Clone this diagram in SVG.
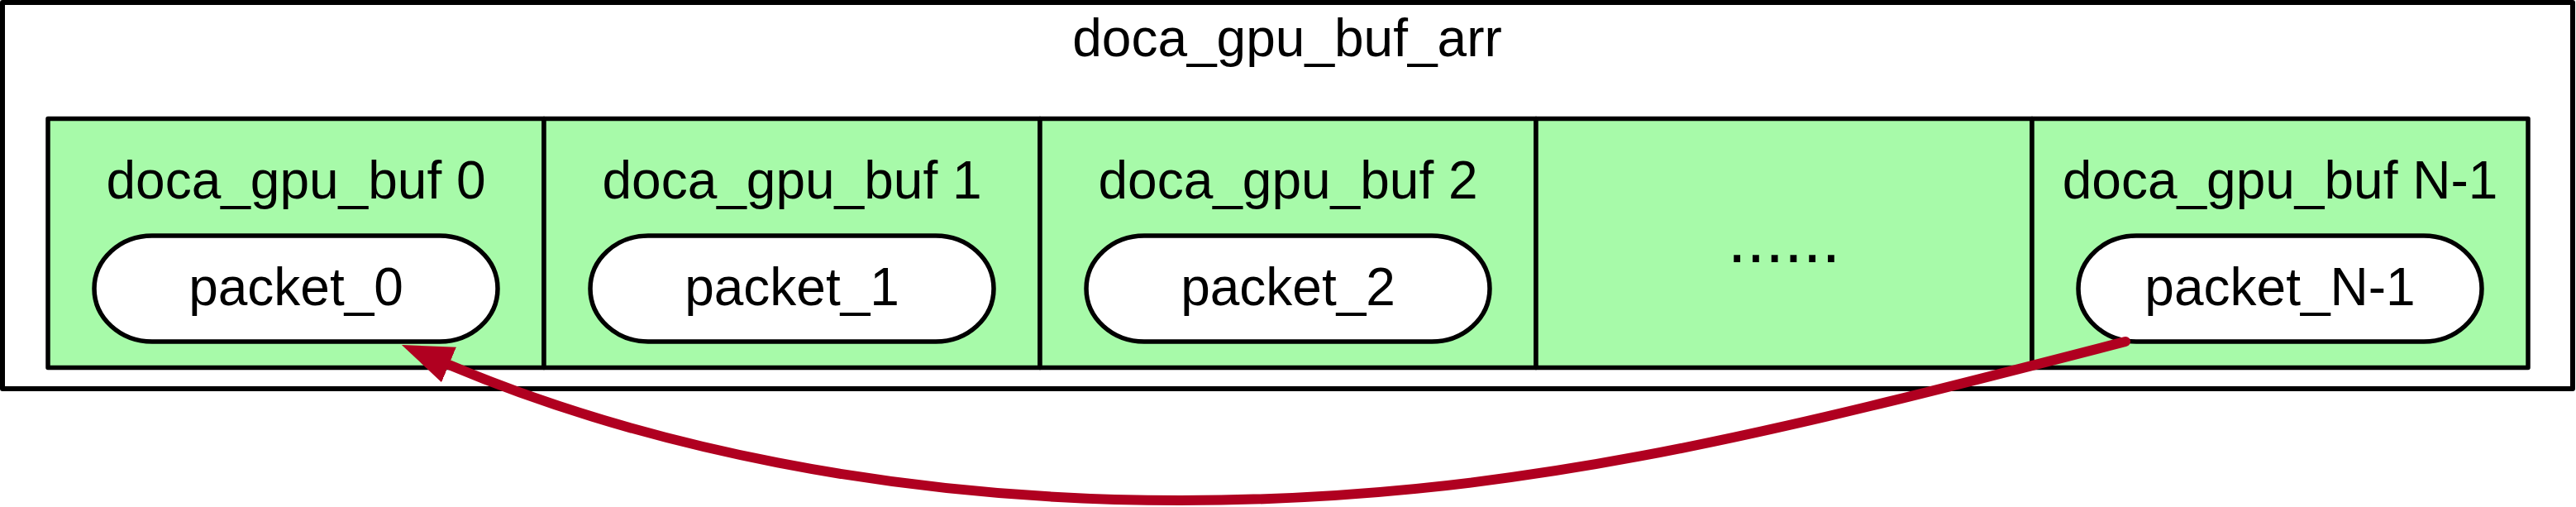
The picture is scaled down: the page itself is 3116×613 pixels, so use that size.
<svg xmlns="http://www.w3.org/2000/svg" width="3116" height="613" viewBox="0 0 3116 613">
  <style>
    .outer { fill: #ffffff; stroke: #000000; stroke-width: 6; stroke-linejoin: round; }
    .cell { fill: #A7FAA9; stroke: #000000; stroke-width: 5.5; stroke-linejoin: round; }
    .pkt { fill: #ffffff; stroke: #000000; stroke-width: 5.5; }
    .lbl { font-family: "Liberation Sans", Arial, Helvetica, sans-serif; font-size: 64px; fill: #000000; text-anchor: middle; }
    .dots { font-family: "Liberation Sans", Arial, Helvetica, sans-serif; font-size: 82px; fill: #000000; text-anchor: middle; }
    .edge { fill: none; stroke: #B00020; stroke-width: 12; stroke-linecap: round; }
  </style>
  <defs>
    <marker id="ah" markerUnits="userSpaceOnUse" markerWidth="70" markerHeight="60" refX="0" refY="30" orient="auto" viewBox="0 0 70 60">
      <path d="M0,7 L62,30 L0,53 Z" fill="#B00020"/>
    </marker>
  </defs>
  <rect width="3116" height="613" fill="#ffffff"/>

  <g id="doca_gpu_buf_arr">
    <rect class="outer" x="3" y="3" width="3109" height="467"/>
    <text class="lbl" x="1557" y="68">doca_gpu_buf_arr</text>
  </g>

  <g id="buf0">
    <rect class="cell" x="58" y="143.5" width="600" height="301"/>
    <text class="lbl" x="358" y="240">doca_gpu_buf 0</text>
  </g>
  <g id="buf1">
    <rect class="cell" x="658" y="143.5" width="600" height="301"/>
    <text class="lbl" x="958" y="240">doca_gpu_buf 1</text>
  </g>
  <g id="buf2">
    <rect class="cell" x="1258" y="143.5" width="600" height="301"/>
    <text class="lbl" x="1558" y="240">doca_gpu_buf 2</text>
  </g>
  <g id="bufdots">
    <rect class="cell" x="1858" y="143.5" width="600" height="301"/>
    <text class="dots" x="2158" y="317">......</text>
  </g>
  <g id="bufN1">
    <rect class="cell" x="2458" y="143.5" width="600" height="301"/>
    <text class="lbl" x="2758" y="240">doca_gpu_buf N-1</text>
  </g>

  <g id="packet_0">
    <rect class="pkt" x="114" y="285" width="488" height="128" rx="70" ry="64"/>
    <text class="lbl" x="358" y="369">packet_0</text>
  </g>
  <g id="packet_1">
    <rect class="pkt" x="714" y="285" width="488" height="128" rx="70" ry="64"/>
    <text class="lbl" x="958" y="369">packet_1</text>
  </g>
  <g id="packet_2">
    <rect class="pkt" x="1314" y="285" width="488" height="128" rx="70" ry="64"/>
    <text class="lbl" x="1558" y="369">packet_2</text>
  </g>
  <g id="packet_N-1">
    <rect class="pkt" x="2514" y="285" width="488" height="128" rx="70" ry="64"/>
    <text class="lbl" x="2758" y="369">packet_N-1</text>
  </g>

  <g id="connectors">
    <path class="edge" marker-end="url(#ah)" d="M2571,413 C2135,525.5 1828,605 1428,605 C1078,605 773.5,538 543,441"/>
  </g>
</svg>
